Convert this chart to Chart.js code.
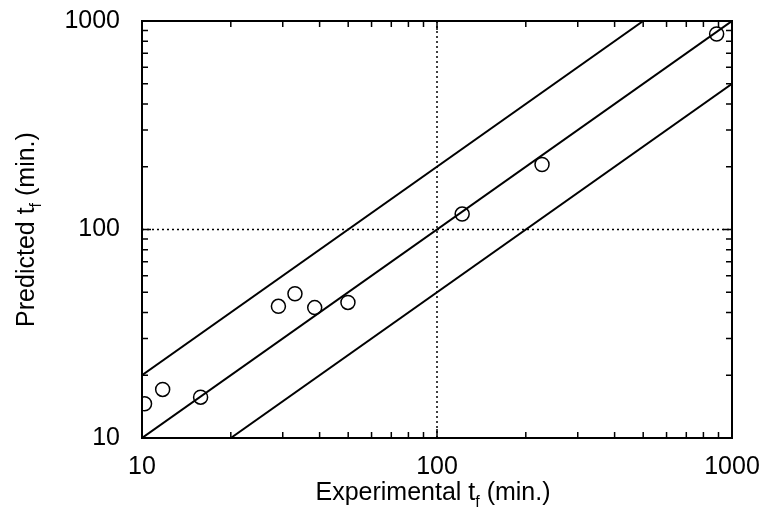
<!DOCTYPE html>
<html>
<head>
<meta charset="utf-8">
<script src="https://cdn.jsdelivr.net/npm/chart.js@4.4.0/dist/chart.umd.min.js"></script>
<style>
  html, body { margin: 0; padding: 0; background: #fff; }
  #wrap { width: 769px; height: 519px; }
</style>
</head>
<body>
<div id="wrap"><canvas id="grafico" width="769" height="519"></canvas></div>
<script>
// experimental vs predicted tf (min.)
var expTf  = [10.2, 11.75, 15.8, 29.0, 33.0, 38.5, 49.9, 121.7, 227, 887];
var predTf = [14.6, 17.1, 15.7, 42.8, 49.2, 42.2, 44.7, 118.6, 205, 866];

// y = x, y = 2x, y = x/2
var equalX = [10, 1000],  equalY = [10, 1000];
var upperX = [10, 500],   upperY = [20, 1000];
var lowerX = [20, 1000],  lowerY = [10, 500];

// dotted reference lines at 100
var vRefX = [100, 100],   vRefY = [10, 1000];
var hRefX = [10, 1000],   hRefY = [100, 100];

var tickLabels = [10, 100, 1000];
var minorTicks = [10, 20, 30, 40, 50, 60, 70, 80, 90, 100, 200, 300, 400, 500, 600, 700, 800, 900, 1000];

function pares(xs, ys) {
    return xs.map(function (x, i) { return { x: x, y: ys[i] }; });
}

var FONT = "'Liberation Sans', Arial, Helvetica, sans-serif";

// frame, inward ticks and titles with subscript
var marcoPlugin = {
    id: 'marco',
    afterDraw: function (chart) {
        var ctx = chart.ctx, a = chart.chartArea;
        var sx = chart.scales.x, sy = chart.scales.y;
        ctx.save();
        ctx.strokeStyle = '#000';
        ctx.lineWidth = 1.5;
        minorTicks.forEach(function (v) {
            var len = tickLabels.indexOf(v) >= 0 ? 9 : 6;
            var px = sx.getPixelForValue(v);
            var py = sy.getPixelForValue(v);
            ctx.beginPath();
            ctx.moveTo(px, a.bottom); ctx.lineTo(px, a.bottom - len);
            ctx.moveTo(px, a.top); ctx.lineTo(px, a.top + len);
            ctx.moveTo(a.left, py); ctx.lineTo(a.left + len, py);
            ctx.moveTo(a.right, py); ctx.lineTo(a.right - len, py);
            ctx.stroke();
        });
        ctx.lineWidth = 2;
        ctx.strokeRect(a.left, a.top, a.right - a.left, a.bottom - a.top);

        ctx.fillStyle = '#000';
        ctx.textBaseline = 'alphabetic';
        function titulo(pre, post) {
            ctx.font = '25px ' + FONT;
            var w1 = ctx.measureText(pre).width;
            var w3 = ctx.measureText(post).width;
            ctx.font = '16px ' + FONT;
            var w2 = ctx.measureText('f').width;
            var x0 = -(w1 + w2 + w3) / 2;
            ctx.font = '25px ' + FONT;
            ctx.textAlign = 'left';
            ctx.fillText(pre, x0, 0);
            ctx.font = '16px ' + FONT;
            ctx.fillText('f', x0 + w1, 7);
            ctx.font = '25px ' + FONT;
            ctx.fillText(post, x0 + w1 + w2, 0);
        }
        ctx.save();
        ctx.translate((a.left + a.right) / 2 - 4, 500);
        titulo('Experimental t', ' (min.)');
        ctx.restore();
        ctx.save();
        ctx.translate(34, (a.top + a.bottom) / 2);
        ctx.rotate(-Math.PI / 2);
        titulo('Predicted t', ' (min.)');
        ctx.restore();
        ctx.restore();
    }
};

var lineaBase = { type: 'line', borderColor: '#000', borderWidth: 2, pointRadius: 0, fill: false, tension: 0 };

var Datos = {
    datasets: [
        Object.assign({}, lineaBase, { label: 'vref', data: pares(vRefX, vRefY), borderWidth: 1.5, borderDash: [2, 3] }),
        Object.assign({}, lineaBase, { label: 'href', data: pares(hRefX, hRefY), borderWidth: 1.5, borderDash: [2, 3] }),
        Object.assign({}, lineaBase, { label: 'y=2x', data: pares(upperX, upperY) }),
        Object.assign({}, lineaBase, { label: 'y=x', data: pares(equalX, equalY) }),
        Object.assign({}, lineaBase, { label: 'y=x/2', data: pares(lowerX, lowerY) }),
        {
            type: 'scatter',
            label: 'datos',
            data: pares(expTf, predTf),
            pointStyle: 'circle',
            pointRadius: 7,
            borderWidth: 1.5,
            borderColor: '#000',
            backgroundColor: 'rgba(0,0,0,0)'
        }
    ]
};

var etiqueta = function (v) { return tickLabels.indexOf(v) >= 0 ? String(v) : ''; };

var contexto = document.getElementById('grafico').getContext('2d');
var myChart = new Chart(contexto, {
    type: 'scatter',
    data: Datos,
    plugins: [marcoPlugin],
    options: {
        responsive: false,
        animation: false,
        layout: { padding: { left: 0, top: 21, right: 37, bottom: 0 } },
        plugins: { legend: { display: false }, tooltip: { enabled: false } },
        scales: {
            x: {
                type: 'logarithmic', min: 10, max: 1000,
                grid: { display: false }, border: { display: false },
                ticks: { autoSkip: false, maxRotation: 0, padding: 6, color: '#000',
                         font: { family: FONT, size: 25 }, callback: etiqueta },
                afterFit: function (s) { s.height = 81; s.paddingLeft = 0; s.paddingRight = 0; }
            },
            y: {
                type: 'logarithmic', min: 10, max: 1000,
                grid: { display: false }, border: { display: false },
                ticks: { autoSkip: false, padding: 14, color: '#000',
                         font: { family: FONT, size: 25 }, callback: etiqueta },
                afterFit: function (s) { s.width = 142; s.paddingTop = 0; s.paddingBottom = 0; }
            }
        }
    }
});
</script>
</body>
</html>
